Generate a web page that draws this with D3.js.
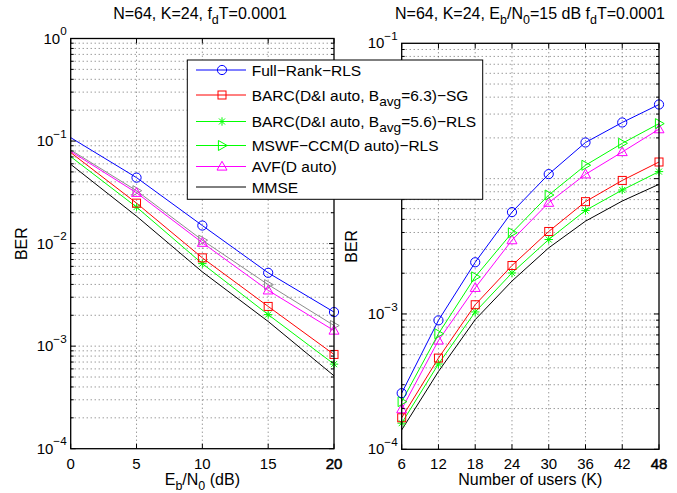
<!DOCTYPE html>
<html><head><meta charset="utf-8">
<script src="https://cdn.jsdelivr.net/npm/d3@7"></script>
<style>
body{margin:0;background:#fff;}
svg{display:block;font-family:"Liberation Sans",Arial,Helvetica,sans-serif;}
</style></head>
<body><svg id="c" width="677" height="493"></svg>
<script>
// ---- data ----
const leftX = [0, 5, 10, 15, 20];
const leftMarkerFrom = 5;
const leftFullRank = [0.108, 0.044, 0.0150, 0.00519, 0.00215];
const leftBarcSG   = [0.0773, 0.0248, 0.00726, 0.00244, 0.00083];
const leftBarcRLS  = [0.0705, 0.0227, 0.00638, 0.00203, 0.000668];
const leftMswf     = [0.0818, 0.0328, 0.0108, 0.00398, 0.00159];
const leftAvf      = [0.0794, 0.0313, 0.0102, 0.0035, 0.00142];
const leftMmse     = [0.0593, 0.0185, 0.0053, 0.00174, 0.000514];

const rightX = [6, 12, 18, 24, 30, 36, 42, 48];
const rightFullRank = [0.00026, 0.000897, 0.00241, 0.00566, 0.0108, 0.0185, 0.0260, 0.0353];
const rightMswf     = [0.000225, 0.000714, 0.00188, 0.00398, 0.00757, 0.01256, 0.01824, 0.0255];
const rightAvf      = [0.000198, 0.000637, 0.00156, 0.00351, 0.00664, 0.01076, 0.01573, 0.0232];
const rightBarcSG   = [0.000171, 0.000472, 0.00117, 0.00228, 0.00407, 0.00676, 0.0097, 0.01327];
const rightBarcRLS  = [0.000156, 0.000427, 0.001035, 0.00201, 0.00355, 0.00582, 0.00824, 0.01127];
const rightMmse     = [0.000139, 0.000376, 0.000908, 0.00175, 0.00308, 0.00485, 0.00683, 0.00908];

const leftXTicks = [0, 5, 10, 15, 20];
const rightXTicks = [6, 12, 18, 24, 30, 36, 42, 48];
const leftYExp = [0, -1, -2, -3, -4];
const rightYExp = [-1, -2, -3, -4];

const legendNames = [
  [{t:"Full\u2212Rank\u2212RLS"}],
  [{t:"BARC(D&I auto, B"},{t:"avg",sub:1},{t:"=6.3)\u2212SG"}],
  [{t:"BARC(D&I auto, B"},{t:"avg",sub:1},{t:"=5.6)\u2212RLS"}],
  [{t:"MSWF\u2212CCM(D auto)\u2212RLS"}],
  [{t:"AVF(D auto)"}],
  [{t:"MMSE"}]
];
const legendColors = ["#0000ff","#ff0000","#00ff00","#00ff00","#ff00ff","#000000"];
const legendMarkers = ["circle","square","star","tright","tup","none"];

// ---- helpers ----
const svg = d3.select("#c");
const FS = 15;      // tick labels
const LFS = 16;     // axis labels and titles
const GFS = 15.5;   // legend

function rich(g, x, y, parts, anchor, size, rot, subScale) {
  const sz = size || FS, sc = subScale || 0.78;
  const t = g.append("text").attr("x", x).attr("y", y)
    .attr("text-anchor", anchor || "start").attr("font-size", sz).attr("fill", "#000");
  if (rot) t.attr("transform", `rotate(${rot},${x},${y})`);
  let state = 0;
  parts.forEach(p => {
    const s = p.sub ? 1 : (p.sup ? -1 : 0);
    const ts = t.append("tspan").text(p.t);
    const off = (v) => v === 1 ? 0.34 : (v === -1 ? -0.55 : 0);
    const dyEm = off(s) - off(state);
    if (dyEm !== 0) ts.attr("dy", (dyEm * sz) + "px");
    if (s !== 0) ts.attr("font-size", sz * sc);
    state = s;
  });
  return t;
}

function marker(g, type, x, y, color) {
  const m = g.append("g").attr("transform", `translate(${x},${y})`)
    .attr("fill", "none").attr("stroke", color).attr("stroke-width", 1);
  if (type === "circle") m.append("circle").attr("r", 4.6);
  else if (type === "square") m.append("rect").attr("x", -4).attr("y", -4).attr("width", 8).attr("height", 8);
  else if (type === "tup") m.append("path").attr("d", "M0,-5.2L5,3.6L-5,3.6Z");
  else if (type === "tright") m.append("path").attr("d", "M5.2,0L-3.6,5L-3.6,-5Z");
  else if (type === "star") {
    const r = 4.2, d = r * 0.72;
    m.append("path").attr("d", `M${-r},0L${r},0M0,${-r}L0,${r}M${-d},${-d}L${d},${d}M${-d},${d}L${d},${-d}`);
  }
}

function panel(cfg) {
  const g = svg.append("g");
  const x = d3.scaleLinear().domain(cfg.xd).range(cfg.xr);
  const y = d3.scaleLog().domain([1e-4, Math.pow(10, cfg.ytop)]).range(cfg.yr);
  const [x0, x1] = cfg.xr, [y0, y1] = cfg.yr;
  // grid
  const grid = g.append("g").attr("stroke", "#000").attr("stroke-width", 0.8)
    .attr("stroke-dasharray", "1,3").attr("opacity", 0.7);
  cfg.xt.forEach(v => {
    if (v === cfg.xd[0] || v === cfg.xd[1]) return;
    grid.append("line").attr("x1", x(v)).attr("x2", x(v)).attr("y1", y0).attr("y2", y1);
  });
  const minor = [];
  for (let e = -4; e < cfg.ytop; e++) for (let k = 1; k <= 9; k++) minor.push(k * Math.pow(10, e));
  minor.forEach(v => {
    if (Math.abs(Math.log10(v) + 4) < 1e-9) return;
    grid.append("line").attr("x1", x0).attr("x2", x1).attr("y1", y(v)).attr("y2", y(v));
  });
  // series
  const line = d3.line().x(d => x(d[0])).y(d => y(d[1]));
  cfg.series.forEach(s => {
    const pts = cfg.xv.map((xv, i) => [xv, s.v[i]]);
    g.append("path").attr("d", line(pts)).attr("fill", "none").attr("stroke", s.c).attr("stroke-width", 1);
    if (s.m !== "none") pts.forEach(p => { if (p[0] >= cfg.mFrom) marker(g, s.m, x(p[0]), y(p[1]), s.c); });
  });
  // box
  g.append("rect").attr("x", x0).attr("y", y1).attr("width", x1 - x0).attr("height", y0 - y1)
    .attr("fill", "none").attr("stroke", "#000").attr("stroke-width", 1.3);
  const tk = g.append("g").attr("stroke", "#000").attr("stroke-width", 1);
  cfg.xt.forEach((v, i) => {
    tk.append("line").attr("x1", x(v)).attr("x2", x(v)).attr("y1", y0).attr("y2", y0 - 5);
    tk.append("line").attr("x1", x(v)).attr("x2", x(v)).attr("y1", y1).attr("y2", y1 + 5);
    const lab = g.append("text").attr("x", x(v)).attr("y", y0 + 20).attr("text-anchor", "middle")
      .attr("font-size", FS).text(v);
    if (i === cfg.xt.length - 1) lab.attr("stroke", "#000").attr("stroke-width", 0.5);
  });
  minor.forEach(v => {
    const major = Math.abs(Math.log10(v) - Math.round(Math.log10(v))) < 1e-9;
    const L = major ? 5 : 3;
    tk.append("line").attr("x1", x0).attr("x2", x0 + L).attr("y1", y(v)).attr("y2", y(v));
    tk.append("line").attr("x1", x1).attr("x2", x1 - L).attr("y1", y(v)).attr("y2", y(v));
  });
  cfg.ye.forEach(e => {
    rich(g, x0 - 4, y(Math.pow(10, e)) + 5, [{t:"10"},{t: e === 0 ? "0" : "\u2212" + (-e), sup:1}], "end", FS);
  });
  rich(g, cfg.ylabX, (y0 + y1) / 2, [{t:"BER"}], "middle", LFS, -90);
  rich(g, (x0 + x1) / 2, y0 + 36, cfg.xlabel, "middle", LFS);
  rich(g, cfg.titleX, 19, cfg.title, "middle", LFS);
  return g;
}

panel({
  xd:[0,20], xr:[70.7,334], yr:[448.7,38.5], ytop:0, xt:leftXTicks, ye:leftYExp, xv:leftX, mFrom:leftMarkerFrom,
  ylabX: 27, titleX: 200,
  xlabel:[{t:"E"},{t:"b",sub:1},{t:"/N"},{t:"0",sub:1},{t:" (dB)"}],
  title:[{t:"N=64, K=24, f"},{t:"d",sub:1},{t:"T=0.0001"}],
  series:[
    {v:leftMswf, c:"#8c8c8c", m:"tright"},
    {v:leftAvf, c:"#ff00ff", m:"tup"},
    {v:leftMmse, c:"#000000", m:"none"},
    {v:leftBarcRLS, c:"#00ff00", m:"star"},
    {v:leftBarcSG, c:"#ff0000", m:"square"},
    {v:leftFullRank, c:"#0000ff", m:"circle"}
  ]
});
panel({
  xd:[6,48], xr:[401.7,659], yr:[449.3,43.3], ytop:-1, xt:rightXTicks, ye:rightYExp, xv:rightX, mFrom:6,
  ylabX: 357, titleX: 530,
  xlabel:[{t:"Number of users (K)"}],
  title:[{t:"N=64, K=24, E"},{t:"b",sub:1},{t:"/N"},{t:"0",sub:1},{t:"=15 dB f"},{t:"d",sub:1},{t:"T=0.0001"}],
  series:[
    {v:rightMmse, c:"#000000", m:"none"},
    {v:rightBarcRLS, c:"#00ff00", m:"star"},
    {v:rightBarcSG, c:"#ff0000", m:"square"},
    {v:rightAvf, c:"#ff00ff", m:"tup"},
    {v:rightMswf, c:"#00ff00", m:"tright"},
    {v:rightFullRank, c:"#0000ff", m:"circle"}
  ]
});

// ---- legend ----
const lg = svg.append("g");
lg.append("rect").attr("x", 187.3).attr("y", 60).attr("width", 295.4).attr("height", 139.3)
  .attr("fill", "#fff").attr("stroke", "#000").attr("stroke-width", 1);
const rowPos = [70, 95, 121.5, 145.5, 166.5, 187];
legendNames.forEach((parts, i) => {
  const yy = rowPos[i];
  lg.append("line").attr("x1", 196).attr("x2", 246).attr("y1", yy).attr("y2", yy)
    .attr("stroke", legendColors[i]).attr("stroke-width", 1);
  if (legendMarkers[i] !== "none") marker(lg, legendMarkers[i], 222, yy, legendColors[i]);
  rich(lg, 251.7, yy + 5.5, parts, "start", GFS, 0, 0.88);
});
</script></body></html>
